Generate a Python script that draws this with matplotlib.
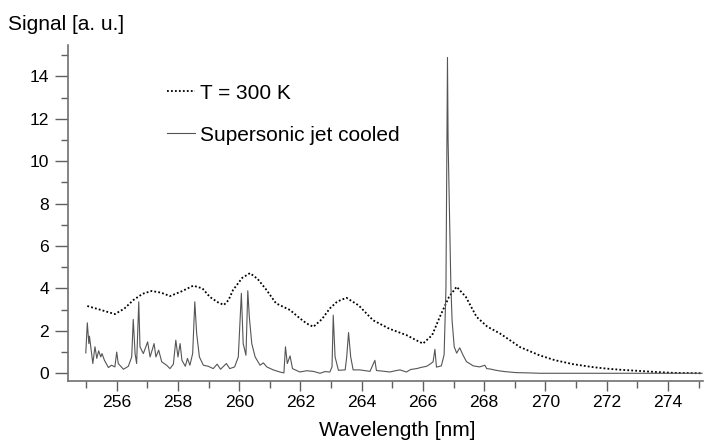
import matplotlib
matplotlib.use('Agg')
import matplotlib.pyplot as plt
from matplotlib.ticker import MultipleLocator

plt.rcParams['font.family'] = ['Liberation Sans', 'DejaVu Sans']

# Спектр при комнатной температуре (T = 300 K)
wl_300 = [255.04, 255.45, 255.94, 256.25, 256.54, 256.85, 257.14, 257.45, 257.74,
          258.1, 258.5, 258.8, 259.04, 259.3, 259.5, 259.65, 259.8, 260.1, 260.35,
          260.6, 260.89, 261.2, 261.66, 261.98, 262.2, 262.42, 262.7, 262.96, 263.2,
          263.5, 263.9, 264.37, 264.9, 265.46, 265.75, 266.0, 266.3, 266.55, 266.85,
          267.1, 267.4, 267.75, 268.1, 268.51, 268.85, 269.16, 269.8, 270.3, 270.9,
          271.5, 271.99, 272.5, 273.08, 273.6, 274.17, 275.14]
sig_300 = [3.17, 3.0, 2.79, 3.05, 3.45, 3.75, 3.88, 3.8, 3.64,
           3.85, 4.13, 4.0, 3.6, 3.35, 3.22, 3.45, 3.93, 4.5, 4.72,
           4.45, 3.93, 3.3, 2.98, 2.59, 2.35, 2.19, 2.55, 3.06, 3.38,
           3.56, 3.2, 2.5, 2.1, 1.8, 1.58, 1.4, 1.8, 2.66, 3.6,
           4.08, 3.6, 2.66, 2.2, 1.88, 1.55, 1.24, 0.85, 0.62, 0.43,
           0.3, 0.22, 0.16, 0.11, 0.06, 0.02, 0.0]

# Спектр в сверхзвуковой струе
wl_jet = [254.99, 255.04, 255.09, 255.11, 255.22, 255.29, 255.35, 255.41, 255.48,
          255.52, 255.6, 255.73, 255.83, 255.94, 256.0, 256.05, 256.22, 256.38,
          256.49, 256.54, 256.6, 256.65, 256.72, 256.76, 256.87, 257.01, 257.09,
          257.22, 257.28, 257.37, 257.47, 257.63, 257.74, 257.85, 257.93, 258.0,
          258.07, 258.13, 258.24, 258.31, 258.39, 258.48, 258.55, 258.61, 258.7,
          258.83, 258.99, 259.15, 259.28, 259.39, 259.58, 259.69, 259.85, 259.97,
          260.07, 260.13, 260.22, 260.28, 260.33, 260.41, 260.52, 260.68, 260.79,
          260.9, 261.11, 261.33, 261.46, 261.51, 261.57, 261.66, 261.74, 261.98,
          262.2, 262.42, 262.64, 262.8, 262.96, 263.03, 263.07, 263.13, 263.24,
          263.46, 263.51, 263.57, 263.64, 263.72, 263.94, 264.27, 264.43, 264.48,
          264.7, 264.92, 265.1, 265.25, 265.46, 265.6, 265.79, 265.95, 266.12,
          266.25, 266.33, 266.39, 266.44, 266.6, 266.69, 266.75, 266.8, 266.82,
          266.91, 266.95, 267.02, 267.1, 267.2, 267.31, 267.42, 267.64, 267.85,
          268.02, 268.08, 268.2, 268.35, 268.51, 268.67, 269.05, 269.4, 269.82,
          270.5, 271.5, 272.5, 273.5, 274.5, 275.1]
sig_jet = [0.96, 2.38, 1.4, 1.75, 0.46, 1.25, 0.7, 1.06, 0.77,
           0.93, 0.61, 0.27, 0.38, 0.3, 1.0, 0.46, 0.19, 0.33,
           0.77, 2.54, 0.93, 0.46, 3.37, 1.25, 0.93, 1.48, 0.77,
           1.4, 0.77, 1.09, 0.54, 0.38, 0.22, 0.43, 1.56, 0.77,
           1.4, 0.61, 0.33, 0.7, 0.38, 0.93, 3.37, 1.88, 0.77,
           0.38, 0.33, 0.22, 0.43, 0.19, 0.46, 0.22, 0.3, 0.77,
           3.77, 1.4, 0.85, 3.89, 2.66, 1.4, 0.77, 0.38, 0.49,
           0.3, 0.16, 0.06, 0.02, 1.25, 0.46, 0.82, 0.22, 0.06,
           0.12, 0.09, 0.0, 0.08, 0.06, 0.3, 2.74, 0.77, 0.14,
           0.16, 0.77, 1.92, 0.77, 0.16, 0.16, 0.09, 0.61, 0.13,
           0.1, 0.06, 0.12, 0.16, 0.06, 0.18, 0.22, 0.28, 0.33,
           0.45, 0.54, 1.13, 0.29, 0.35, 0.87, 4.0, 14.89, 11.0,
           4.2, 2.5, 1.25, 0.95, 1.2, 0.85, 0.55, 0.35, 0.3,
           0.38, 0.22, 0.2, 0.15, 0.11, 0.08, 0.03, 0.02, 0.0,
           0.0, 0.0, 0.0, 0.0, 0.0, 0.0]

fig = plt.figure(figsize=(7.07, 4.46), dpi=100)
ax = fig.add_axes([0.0962, 0.1464, 0.898, 0.7524])

ax.plot(wl_300, sig_300, color='black', lw=1.3, linestyle=(0, (1, 1.2)),
        label='T = 300 K')
ax.plot(wl_jet, sig_jet, color='#555555', lw=0.8, label='Supersonic jet cooled')

ax.set_xlim(254.41, 275.14)
ax.set_ylim(-0.35, 15.47)

for side in ['top', 'right']:
    ax.spines[side].set_visible(False)
for side in ['left', 'bottom']:
    ax.spines[side].set_color('#707070')
    ax.spines[side].set_linewidth(1.2)

ax.xaxis.set_minor_locator(MultipleLocator(1))
ax.yaxis.set_major_locator(MultipleLocator(2))
ax.yaxis.set_minor_locator(MultipleLocator(1))
ax.set_xticks(range(256, 276, 2))
ax.tick_params(axis='both', which='both', direction='out', color='#606060',
               width=1.0, labelsize=12.6)
ax.tick_params(axis='x', which='major', length=7.5, pad=3)
ax.tick_params(axis='x', which='minor', length=5)
ax.tick_params(axis='y', which='major', length=9.5, pad=4)
ax.tick_params(axis='y', which='minor', length=5)

fig.text(8 / 707, 1 - 25 / 446, 'Signal [a. u.]', fontsize=15, ha='left', va='center')
fig.text(397 / 707, 1 - 430 / 446, 'Wavelength [nm]', fontsize=15, ha='center',
         va='center')

ax.legend(loc='upper left', bbox_to_anchor=(0.156, 0.885), frameon=False,
          fontsize=15, handlelength=1.35, handletextpad=0.25, labelspacing=1.1,
          borderpad=0, borderaxespad=0)

fig.savefig('out.png', dpi=100)
